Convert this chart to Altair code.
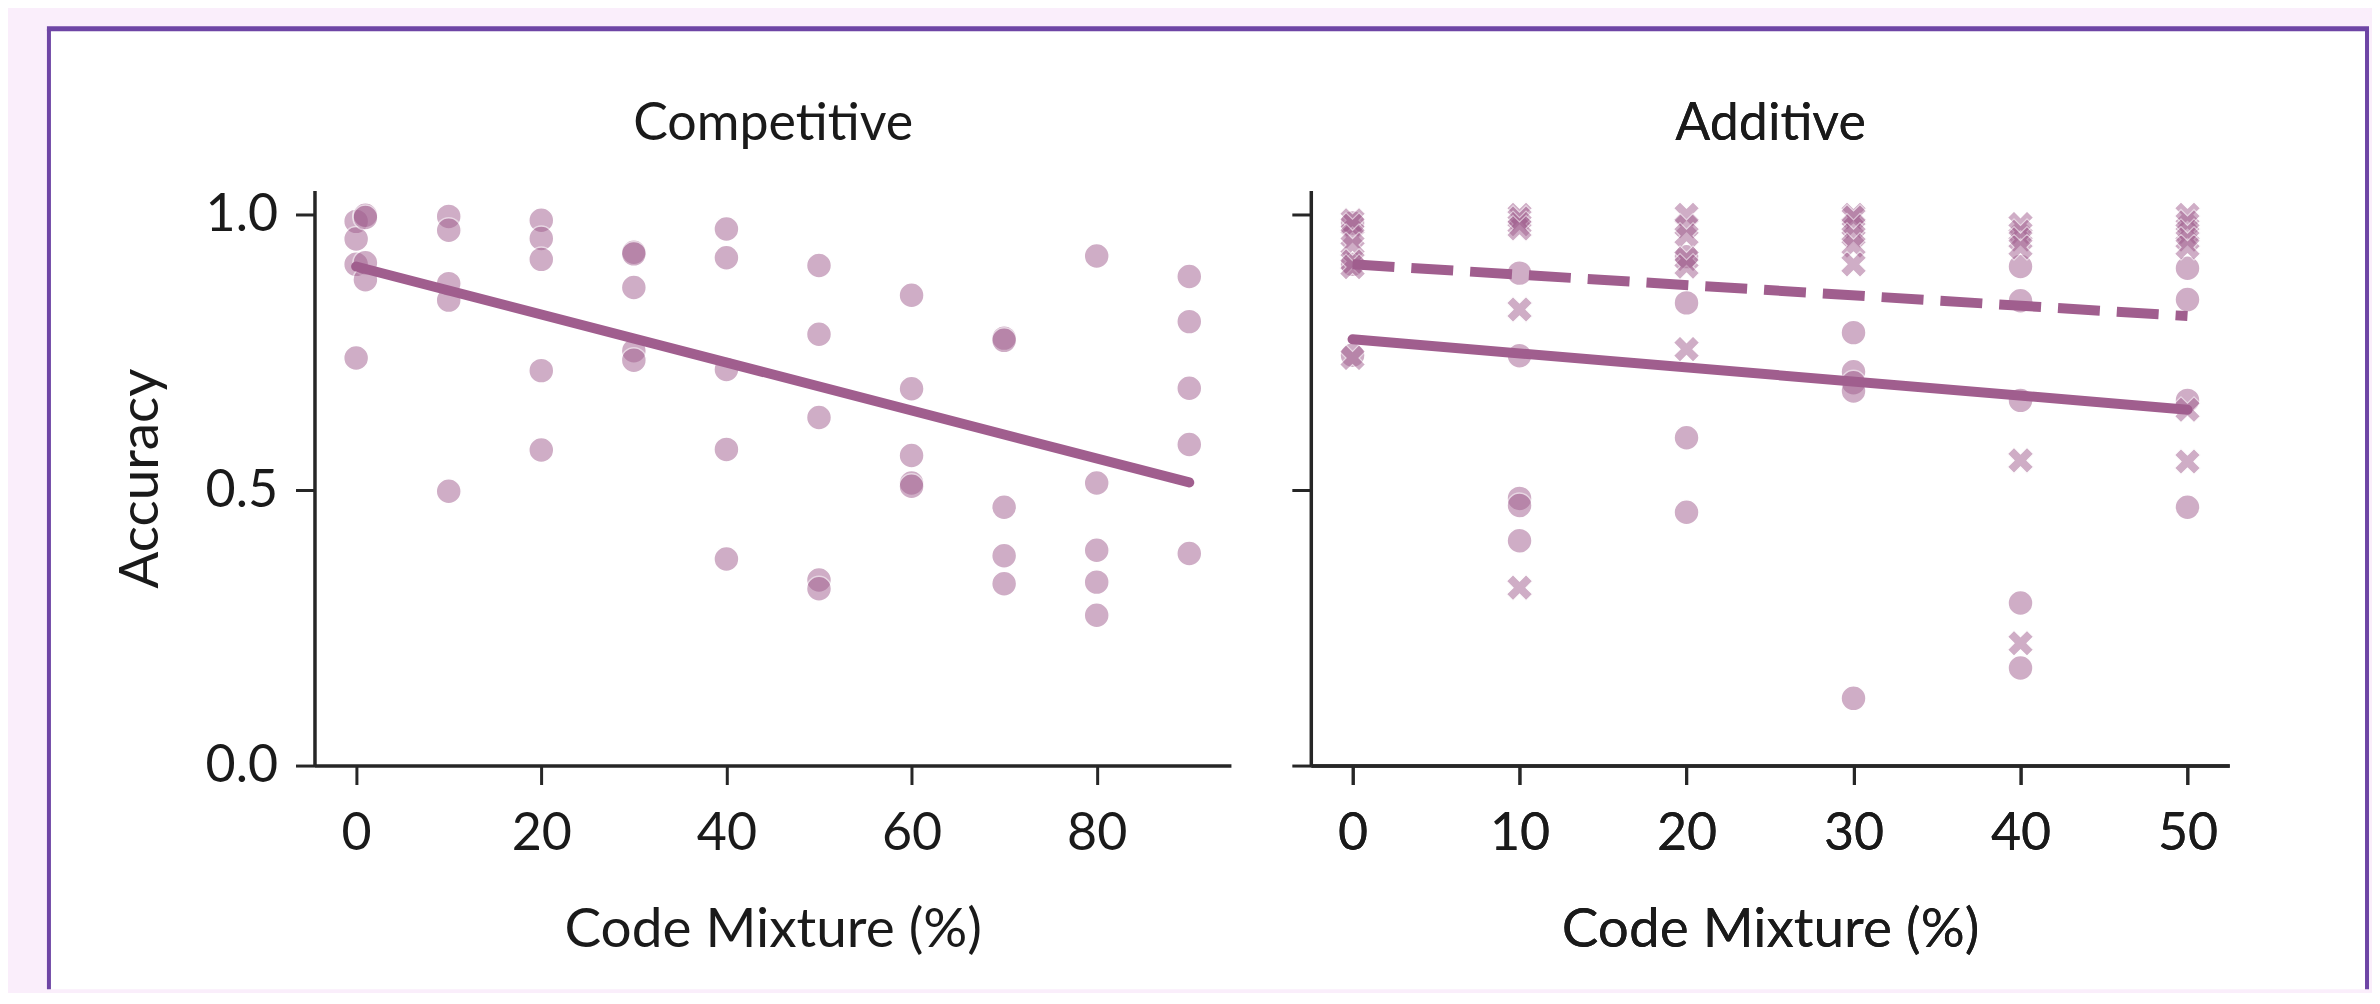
import altair as alt
import pandas as pd

# ---------------- data ----------------
# Competitive panel
comp_x = [0, 0, 0, 0, 1, 1, 1, 1,
          10, 10, 10, 10, 10, 20, 20, 20, 20, 20, 30, 30, 30, 30, 30,
          40, 40, 40, 40, 40, 50, 50, 50, 50, 50, 60, 60, 60, 60, 60,
          70, 70, 70, 70, 70, 80, 80, 80, 80, 80, 90, 90, 90, 90, 90]
comp_y = [0.988, 0.956, 0.910, 0.740, 0.999, 0.995, 0.913, 0.882,
          0.997, 0.972, 0.875, 0.845, 0.498,
          0.990, 0.957, 0.919, 0.717, 0.573,
          0.932, 0.929, 0.868, 0.753, 0.736,
          0.974, 0.922, 0.719, 0.574, 0.375,
          0.908, 0.783, 0.632, 0.337, 0.321,
          0.854, 0.684, 0.563, 0.513, 0.507,
          0.776, 0.772, 0.469, 0.381, 0.330,
          0.925, 0.513, 0.391, 0.333, 0.273,
          0.888, 0.806, 0.685, 0.583, 0.385]
comp_fit_x = [0, 90]
comp_fit_y = [0.906, 0.514]

# Additive panel: circles
add_c_x = [0, 0, 0, 10, 10, 10, 10, 10, 20, 20, 20, 20,
           30, 30, 30, 30, 30, 40, 40, 40, 40, 40, 50, 50, 50, 50]
add_c_y = [0.985, 0.910, 0.745,
           0.894, 0.744, 0.485, 0.472, 0.408,
           0.924, 0.840, 0.595, 0.460,
           0.786, 0.715, 0.695, 0.680, 0.122,
           0.906, 0.844, 0.663, 0.295, 0.177,
           0.903, 0.846, 0.663, 0.469]
# Additive panel: crosses
add_x_x = [0, 0, 0, 0, 0, 0, 0, 10, 10, 10, 10, 10, 10,
           20, 20, 20, 20, 20, 20, 30, 30, 30, 30, 30, 30,
           40, 40, 40, 40, 40, 40, 50, 50, 50, 50, 50, 50, 50]
add_x_y = [0.990, 0.980, 0.960, 0.945, 0.915, 0.905, 0.740,
           1.000, 0.993, 0.983, 0.975, 0.828, 0.323,
           1.000, 0.979, 0.962, 0.920, 0.906, 0.756,
           1.000, 0.995, 0.979, 0.962, 0.944, 0.910,
           0.983, 0.969, 0.955, 0.941, 0.554, 0.222,
           1.000, 0.986, 0.969, 0.955, 0.941, 0.646, 0.552]
add_fit_x = [0, 50]
add_solid_y = [0.774, 0.646]
add_dashed_y = [0.910, 0.816]

comp_ticks = [0, 20, 40, 60, 80]
add_ticks = [0, 10, 20, 30, 40, 50]
y_ticks = [0.0, 0.5, 1.0]

# ---------------- styling ----------------
PURPLE = "#A05E8E"
FRAME = "#6E45A5"
BG = "#FAEEFB"
FONT = "Lato"
FS = 52
TFS = 55
HFS = 52
XPATH = ("M-1,-0.5L-0.5,-1L0,-0.5L0.5,-1L1,-0.5L0.5,0L1,0.5"
         "L0.5,1L0,0.5L-0.5,1L-1,0.5L-0.5,0Z")

W_L, W_R, H = 918, 920, 576

comp_df = pd.DataFrame({"x": comp_x, "y": comp_y})
comp_fit = pd.DataFrame({"x": comp_fit_x, "y": comp_fit_y})
add_c = pd.DataFrame({"x": add_c_x, "y": add_c_y})
add_x = pd.DataFrame({"x": add_x_x, "y": add_x_y})
add_s = pd.DataFrame({"x": add_fit_x, "y": add_solid_y})
add_d = pd.DataFrame({"x": add_fit_x, "y": add_dashed_y})
one = pd.DataFrame({"k": [0]})

y_scale = alt.Scale(domain=[0, 1.044], nice=False, zero=False)
xl_scale = alt.Scale(domain=[-4.5, 94.5], nice=False, zero=False)
xr_scale = alt.Scale(domain=[-2.5, 52.5], nice=False, zero=False)

y_axis_left = alt.Axis(values=y_ticks, format=".1f", title="Accuracy",
                       labelPadding=18, titlePadding=36, zindex=2,
                       titleFontSize=TFS)
y_axis_right = alt.Axis(values=y_ticks, labels=False, title=None, zindex=2)


def bottom_axis(vals):
    return alt.Axis(values=vals, format="d", title="Code Mixture (%)",
                    orient="bottom", labelPadding=24, titlePadding=44,
                    zindex=2, titleFontSize=TFS)


def top_axis(title):
    return alt.Axis(orient="top", title=title, domain=False, ticks=False,
                    labels=False, titlePadding=40, zindex=2,
                    titleFontSize=HFS)


# frame (decoration) drawn in the left panel, behind everything
FL, FR, FT, FB = -266, 2056, -162, 800
frame_fill = alt.Chart(one).mark_rect(fill="white", strokeWidth=0).encode(
    x=alt.value(FL), x2=alt.value(FR), y=alt.value(FT), y2=alt.value(FB))
frame_left = alt.Chart(one).mark_rule(color=FRAME, strokeWidth=4).encode(
    x=alt.value(FL), y=alt.value(FT), y2=alt.value(FB))
frame_right = alt.Chart(one).mark_rule(color=FRAME, strokeWidth=4).encode(
    x=alt.value(FR), y=alt.value(FT), y2=alt.value(FB))
frame_top = alt.Chart(one).mark_rule(color=FRAME, strokeWidth=5).encode(
    x=alt.value(FL - 2), x2=alt.value(FR + 2), y=alt.value(FT))

comp_pts = alt.Chart(comp_df).mark_circle(
    size=625, color=PURPLE, opacity=0.5, stroke="white", strokeWidth=1.5
).encode(
    x=alt.X("x:Q", scale=xl_scale, axis=bottom_axis(comp_ticks)),
    y=alt.Y("y:Q", scale=y_scale, axis=y_axis_left),
)
comp_line = alt.Chart(comp_fit).mark_line(
    color=PURPLE, strokeWidth=10, strokeCap="round"
).encode(
    x=alt.X("x:Q", scale=xl_scale, axis=top_axis("Competitive")),
    y=alt.Y("y:Q", scale=y_scale, axis=y_axis_left),
)
left = alt.layer(frame_fill, frame_left, frame_right, frame_top,
                 comp_pts, comp_line).resolve_axis(x="independent").properties(
    width=W_L, height=H)

add_circ = alt.Chart(add_c).mark_circle(
    size=625, color=PURPLE, opacity=0.5, stroke="white", strokeWidth=1.5
).encode(
    x=alt.X("x:Q", scale=xr_scale, axis=bottom_axis(add_ticks)),
    y=alt.Y("y:Q", scale=y_scale, axis=y_axis_right),
)
add_cross = alt.Chart(add_x).mark_point(
    shape=XPATH, filled=True, size=680, color=PURPLE, opacity=0.5,
    stroke="white", strokeWidth=1.2
).encode(
    x=alt.X("x:Q", scale=xr_scale, axis=bottom_axis(add_ticks)),
    y=alt.Y("y:Q", scale=y_scale, axis=y_axis_right),
)
add_solid = alt.Chart(add_s).mark_line(
    color=PURPLE, strokeWidth=10, strokeCap="round"
).encode(
    x=alt.X("x:Q", scale=xr_scale, axis=top_axis("Additive")),
    y=alt.Y("y:Q", scale=y_scale, axis=y_axis_right),
)
add_dash = alt.Chart(add_d).mark_line(
    color=PURPLE, strokeWidth=10, strokeDash=[42, 17], strokeCap="butt"
).encode(
    x=alt.X("x:Q", scale=xr_scale, axis=top_axis("Additive")),
    y=alt.Y("y:Q", scale=y_scale, axis=y_axis_right),
)
right = alt.layer(add_circ, add_cross, add_solid, add_dash).resolve_axis(
    x="independent").properties(width=W_R, height=H)

chart = alt.hconcat(left, right, spacing=80, bounds="flush").properties(
    padding={"left": 36, "top": 17, "right": 0, "bottom": 0}
).configure(
    background=BG, font=FONT
).configure_view(
    stroke="transparent"
).configure_axis(
    labelFont=FONT, titleFont=FONT, labelFontSize=FS, titleFontSize=TFS,
    titleFontWeight="normal", labelColor="#1a1a1a", titleColor="#1a1a1a",
    domainColor="#262626", domainWidth=3.5, tickColor="#262626",
    tickWidth=3, tickSize=19, grid=False, labelFlush=False,
    labelOverlap=False,
)

chart.save("out.html", embed_options={"renderer": "svg", "actions": False})
